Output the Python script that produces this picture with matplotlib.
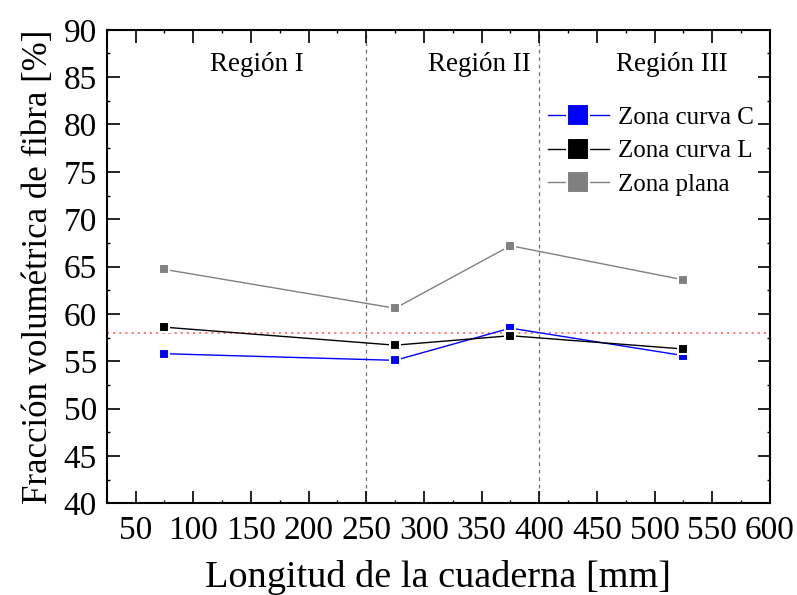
import matplotlib
matplotlib.use("Agg")
import matplotlib.pyplot as plt
from matplotlib.ticker import MultipleLocator

# Frame length positions [mm]
longitud = [75, 275, 375, 525]

# Fibre volume fraction [%] per zone
zona_curva_c = [55.8, 55.1, 58.5, 55.6]
zona_curva_l = [58.6, 56.7, 57.7, 56.3]
zona_plana = [64.7, 60.6, 67.2, 63.6]

referencia = 58.0
limites_region = [250, 400]
regiones = ["Región I", "Región II", "Región III"]
pos_regiones = [155, 348, 515]

plt.rcParams["font.family"] = ["Liberation Serif", "DejaVu Serif"]

fig = plt.figure(figsize=(7.97, 5.95), dpi=100)
ax = fig.add_axes([0.134, 0.154, 0.832, 0.796])

ax.axhline(referencia, color="#ff7070", lw=1.3, ls=(0, (1.2, 2.2)), zorder=1)
for xv in limites_region:
    ax.axvline(xv, color="#707070", lw=0.9, ls=(0, (3, 3)), zorder=1)

series = [
    ("Zona curva C", zona_curva_c, "#0000ff"),
    ("Zona curva L", zona_curva_l, "#000000"),
    ("Zona plana", zona_plana, "#808080"),
]
handles = []
for nombre, vals, col in series:
    ln, = ax.plot(longitud, vals, color=col, lw=1.0, marker="s", ms=7.5,
                  mfc=col, mec="white", mew=1.5, label=nombre, zorder=3)
    handles.append(ln)

for txt, xv in zip(regiones, pos_regiones):
    ax.text(xv, 86.3, txt, ha="center", va="center", fontsize=19.5)

leg = ax.legend(handles=handles, loc="upper left", bbox_to_anchor=(0.65, 0.86),
                frameon=False, fontsize=18, markerscale=2.2, handlelength=2.45,
                handletextpad=0.35, labelspacing=0.45, borderaxespad=0)

ax.set_xlim(25, 600)
ax.set_ylim(40, 90)
ax.xaxis.set_major_locator(MultipleLocator(50))
ax.xaxis.set_minor_locator(MultipleLocator(25))
ax.yaxis.set_major_locator(MultipleLocator(5))
ax.yaxis.set_minor_locator(MultipleLocator(2.5))
ax.set_xticks(range(50, 601, 50))

ax.tick_params(which="both", direction="in", top=True, right=True)
ax.tick_params(which="major", length=9, width=1.2, labelsize=24)
ax.tick_params(axis="x", which="major", pad=9)
ax.tick_params(axis="y", which="major", pad=7)
ax.tick_params(which="minor", length=2, width=1.0)
for s in ax.spines.values():
    s.set_linewidth(1.5)

ax.set_xlabel("Longitud de la cuaderna [mm]", fontsize=27.5, labelpad=10)
ax.set_ylabel("Fracción volumétrica de fibra [%]", fontsize=25, labelpad=6)

fig.savefig("out.png", dpi=100)
